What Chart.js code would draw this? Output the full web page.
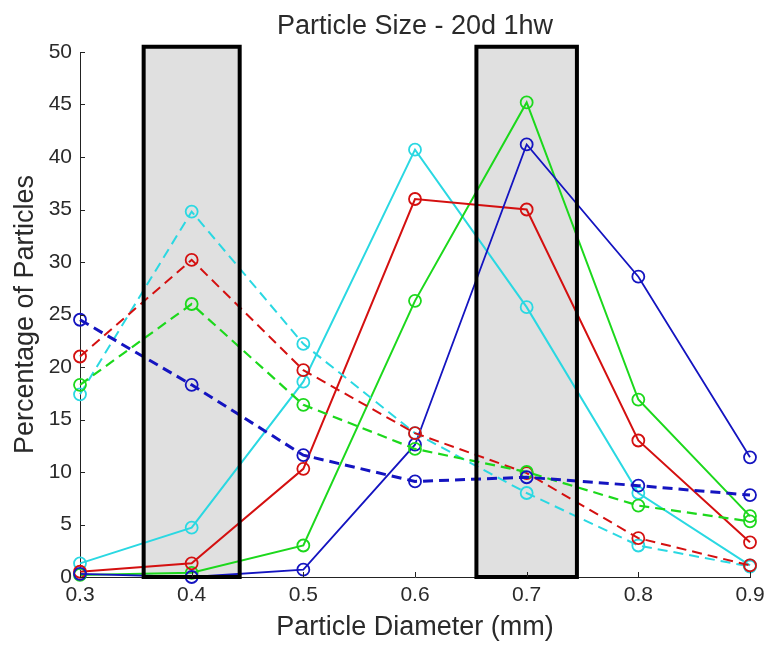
<!DOCTYPE html>
<html>
<head>
<meta charset="utf-8">
<title>Particle Size - 20d 1hw</title>
<script src="https://cdn.jsdelivr.net/npm/chart.js@4.4.1/dist/chart.umd.min.js"></script>
<style>
    html, body { margin: 0; padding: 0; background: #fff; }
    #wrap { width: 766px; height: 645px; }
</style>
</head>
<body>
<div id="wrap"><canvas id="grafico" width="766" height="645"></canvas></div>
<script>
// particle diameters (mm)
const diametros = [0.3, 0.4, 0.5, 0.6, 0.7, 0.8, 0.9];
const xTicks = [0.3, 0.4, 0.5, 0.6, 0.7, 0.8, 0.9];
const yTicks = [0, 5, 10, 15, 20, 25, 30, 35, 40, 45, 50];

// percentage of particles, solid series
const azulSolido = [0.3, 0, 0.7, 12.6, 41.2, 28.6, 11.4];
const rojoSolido = [0.5, 1.3, 10.3, 36.0, 35.0, 13.0, 3.3];
const verdeSolido = [0.2, 0.4, 3.0, 26.3, 45.2, 16.9, 5.8];
const cianSolido = [1.3, 4.7, 18.6, 40.7, 25.7, 8.0, 1.1];

// percentage of particles, dashed series
const azulDiscontinuo = [24.5, 18.3, 11.6, 9.1, 9.5, 8.7, 7.8];
const rojoDiscontinuo = [21.0, 30.2, 19.7, 13.7, 9.9, 3.7, 1.1];
const verdeDiscontinuo = [18.3, 26.0, 16.4, 12.2, 10.0, 6.8, 5.3];
const cianDiscontinuo = [17.4, 34.8, 22.2, 13.7, 8.0, 3.0, 1.0];

// shaded diameter ranges
const rangosSombreados = [[0.357, 0.443], [0.655, 0.745]];
const yTopeRango = 50.5;

const AZUL = "#1414c0";
const ROJO = "#d41010";
const VERDE = "#1cd81c";
const CIAN = "#2ad8e2";
const FUENTE = "'Liberation Sans', Arial, sans-serif";

function serie(valores, color, discontinua, ancho) {
    return {
        data: valores.map((v, i) => ({ x: diametros[i], y: v })),
        borderColor: color,
        borderWidth: ancho,
        borderDash: discontinua ? [10, 6] : [],
        pointStyle: "circle",
        pointRadius: 6,
        pointBorderWidth: 1.8,
        pointBorderColor: color,
        pointBackgroundColor: "rgba(0,0,0,0)",
        pointHoverRadius: 6,
        tension: 0,
        clip: false
    };
}

const cajas = {
    id: "cajas",
    beforeDatasetsDraw(chart) {
        const { ctx, scales: { x, y } } = chart;
        ctx.save();
        ctx.fillStyle = "#e0e0e0";
        rangosSombreados.forEach(r => {
            const x0 = x.getPixelForValue(r[0]);
            const x1 = x.getPixelForValue(r[1]);
            const y0 = y.getPixelForValue(yTopeRango);
            const y1 = y.getPixelForValue(0);
            ctx.fillRect(x0, y0, x1 - x0, y1 - y0);
        });
        ctx.restore();
    },
    afterDatasetsDraw(chart) {
        const { ctx, scales: { x, y } } = chart;
        ctx.save();
        ctx.strokeStyle = "#000";
        ctx.lineWidth = 4;
        rangosSombreados.forEach(r => {
            const x0 = x.getPixelForValue(r[0]);
            const x1 = x.getPixelForValue(r[1]);
            const y0 = y.getPixelForValue(yTopeRango);
            const y1 = y.getPixelForValue(0);
            ctx.strokeRect(x0, y0, x1 - x0, y1 - y0);
        });
        ctx.restore();
    }
};

// ticks pointing inward, matlab style
const marcasInternas = {
    id: "marcasInternas",
    afterDraw(chart) {
        const { ctx, scales: { x, y } } = chart;
        const area = chart.chartArea;
        ctx.save();
        ctx.strokeStyle = "#222";
        ctx.lineWidth = 1;
        ctx.beginPath();
        xTicks.forEach(v => {
            const px = Math.round(x.getPixelForValue(v)) + 0.5;
            ctx.moveTo(px, area.bottom);
            ctx.lineTo(px, area.bottom - 5);
        });
        yTicks.forEach(v => {
            const py = Math.round(y.getPixelForValue(v)) + 0.5;
            ctx.moveTo(area.left, py);
            ctx.lineTo(area.left + 5, py);
        });
        ctx.stroke();
        ctx.restore();
    }
};

const ctx = document.getElementById("grafico").getContext("2d");
new Chart(ctx, {
    type: "line",
    data: {
        datasets: [
            serie(azulDiscontinuo, AZUL, true, 3),
            serie(verdeDiscontinuo, VERDE, true, 2.2),
            serie(rojoDiscontinuo, ROJO, true, 2),
            serie(cianDiscontinuo, CIAN, true, 2),
            serie(azulSolido, AZUL, false, 1.8),
            serie(rojoSolido, ROJO, false, 2),
            serie(verdeSolido, VERDE, false, 2),
            serie(cianSolido, CIAN, false, 2)
        ]
    },
    options: {
        responsive: false,
        animation: false,
        layout: {
            padding: { left: 0, right: 16, top: 0, bottom: 0 }
        },
        plugins: {
            legend: { display: false },
            tooltip: { enabled: false },
            title: {
                display: true,
                fullSize: false,
                text: "Particle Size - 20d 1hw",
                color: "#2a2a2a",
                font: { family: FUENTE, size: 27, weight: "normal" },
                padding: { top: 10, bottom: 9.6 }
            }
        },
        scales: {
            x: {
                type: "linear",
                min: 0.3,
                max: 0.9,
                afterBuildTicks: s => { s.ticks = xTicks.map(v => ({ value: v })); },
                afterFit: s => { s.height = 68; s.paddingLeft = 0; s.paddingRight = 0; },
                ticks: {
                    color: "#2a2a2a",
                    padding: 6,
                    font: { family: FUENTE, size: 21 },
                    callback: v => v.toFixed(1)
                },
                grid: { display: false, drawTicks: false },
                border: { display: true, color: "#222", width: 1 },
                title: {
                    display: true,
                    text: "Particle Diameter (mm)",
                    color: "#2a2a2a",
                    font: { family: FUENTE, size: 27 },
                    padding: { top: 0, bottom: 1 }
                }
            },
            y: {
                type: "linear",
                min: 0,
                max: 50,
                afterBuildTicks: s => { s.ticks = yTicks.map(v => ({ value: v })); },
                afterFit: s => { s.width = 80; },
                ticks: {
                    color: "#2a2a2a",
                    padding: 8,
                    font: { family: FUENTE, size: 21 }
                },
                grid: { display: false, drawTicks: false },
                border: { display: true, color: "#222", width: 1 },
                title: {
                    display: true,
                    text: "Percentage of Particles",
                    color: "#2a2a2a",
                    font: { family: FUENTE, size: 27 },
                    padding: { top: 9, bottom: 0 }
                }
            }
        }
    },
    plugins: [cajas, marcasInternas]
});
</script>
</body>
</html>
